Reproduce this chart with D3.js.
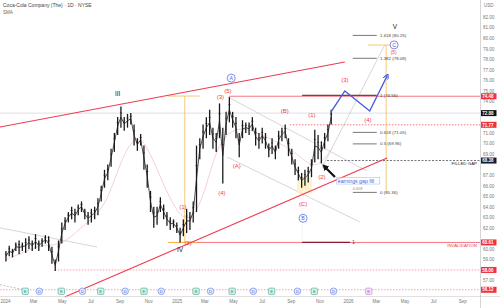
<!DOCTYPE html>
<html><head><meta charset="utf-8">
<script src="https://cdn.jsdelivr.net/npm/d3@7"></script>
<style>body{margin:0;background:#fff} svg{display:block} text{font-family:"Liberation Sans",Arial,sans-serif}</style>
</head><body><svg id="c" width="500" height="308"></svg>
<script>
// ---------- DATA ----------
const title = "Coca-Cola Company (The) · 1D · NYSE";
const indicatorName = "SMA";
const priceStart = "2024-01-01"; // first weekly bar
const weeklyHigh = [59.8,60.3,60.0,60.6,60.8,60.6,61.0,61.2,60.8,61.4,60.8,61.0,61.3,61.2,60.2,59.0,60.8,62.5,63.0,63.5,
  64.0,63.8,64.2,64.5,63.8,63.5,63.8,64.0,64.8,66.0,67.5,68.0,69.5,71.0,72.5,73.5,72.5,72.8,72.9,71.8,
  70.5,70.9,69.8,68.0,65.5,64.0,64.0,64.9,64.2,63.5,63.0,62.8,62.5,62.0,62.8,63.8,63.5,64.5,69.8,70.5,
  71.8,72.5,73.2,71.5,71.0,73.8,71.5,73.0,74.4,73.0,72.5,71.0,72.2,72.0,72.0,72.5,71.5,71.0,71.5,71.0,
  70.0,70.5,69.8,71.2,71.5,71.8,70.5,69.5,68.5,67.8,67.2,67.5,67.8,68.5,71.3,70.8,70.2,71.0,71.8,73.2];
const weeklyLow = [58.8,59.3,59.2,59.8,59.5,59.8,59.6,60.0,59.8,60.0,59.8,60.2,60.5,59.8,58.6,57.9,58.8,60.5,61.8,62.5,
  62.8,62.5,63.2,63.5,62.8,62.3,62.5,62.8,63.2,64.5,65.8,66.5,67.8,69.2,70.8,71.5,71.2,71.5,71.8,69.8,
  69.3,69.8,67.5,65.8,63.5,62.0,62.3,63.5,62.8,62.2,61.8,62.0,61.5,60.6,61.2,61.5,61.8,62.5,63.5,68.5,
  69.5,70.5,70.8,69.5,69.2,70.5,66.2,70.8,72.0,71.5,70.5,68.7,70.5,71.0,70.8,71.2,69.8,69.5,70.0,69.5,
  68.7,69.0,68.5,69.5,70.2,70.5,68.8,68.0,67.0,66.5,65.8,66.0,66.3,66.8,68.2,68.5,68.1,69.5,70.2,71.8];
const smaDates = ["2024-01-05","2024-02-15","2024-03-20","2024-05-01","2024-06-10","2024-07-15","2024-08-10","2024-09-05",
  "2024-10-01","2024-10-25","2024-11-25","2024-12-25","2025-01-25","2025-02-25","2025-03-25","2025-04-25","2025-06-01",
  "2025-07-15","2025-08-20","2025-09-25","2025-10-25","2025-11-28"];
const smaValues = [59.0,59.8,60.4,60.3,62.0,63.2,65.0,68.5,70.6,70.3,67.0,64.0,62.3,64.5,69.5,71.3,71.5,70.5,69.8,68.6,67.5,69.5];

const xTickDates = ["2024-01-01","2024-03-01","2024-05-01","2024-07-01","2024-09-01","2024-11-01","2025-01-01","2025-03-01",
  "2025-05-01","2025-07-01","2025-09-01","2025-11-01","2026-01-01","2026-03-01","2026-05-01","2026-07-01","2026-09-01"];
const xTickLabels = ["2024","Mar","May","Jul","Sep","Nov","2025","Mar","May","Jul","Sep","Nov","2026","Mar","May","Jul","Sep"];
const yTickValues = [57,58,59,60,61,62,63,64,65,66,67,68,69,70,71,72,73,74,75,76,77,78,79,80,81,82];
const axisUnit = "USD";

const tagValues = [74.48,72.88,71.77,68.38,60.61,58.00,56.12];
const tagKinds  = ["level","last","level","gap","level","level","level"];

const earningsDates = ["2024-02-13","2024-04-30","2024-07-23","2024-10-23","2025-02-11","2025-04-29","2025-07-22","2025-10-21"];
const dividendDates = ["2024-03-14","2024-06-14","2024-09-13","2024-11-29","2025-03-14","2025-06-13","2025-09-15","2025-12-01"];
const upcomingDates = ["2026-02-14"];

const fibLevels = ["1.618","1.382","1","0.618","0.5","0"];
const fibPrices = [80.25,78.08,74.56,71.05,69.96,65.36];

const waveText   = ["(3)","(5)","(4)","(A)","(B)","(1)","(2)","(C)","(1)","(2)","(3)","(4)","(5)"];
const waveDates  = ["2025-04-04","2025-04-20","2025-04-07","2025-05-09","2025-08-19","2025-01-14","2025-01-25","2025-09-27",
  "2025-10-16","2025-11-06","2025-12-25","2026-02-12","2026-04-08"];
const wavePrices = [74.4,74.98,65.3,67.86,73.08,63.97,60.56,64.26,72.7,66.8,76.02,72.23,78.62];

const degreeText   = ["III","IV","V"];
const degreeDates  = ["2024-08-28","2025-01-08","2026-04-11"];
const degreePrices = [74.7,59.9,81.05];

const circleText   = ["A","B","C"];
const circleDates  = ["2025-04-27","2025-09-27","2026-04-09"];
const circlePrices = [76.2,62.9,79.35];

const projDates  = ["2025-11-25","2025-12-25","2026-02-16","2026-03-25"];
const projPrices = [72.95,74.98,73.08,76.4];

// ---------- SETUP ----------
const W = 500, H = 308, PW = 480, PH = 296;
const P = d3.timeParse("%Y-%m-%d");
const svg = d3.select("#c");
const x = d3.scaleTime().domain([new Date(2023,11,21,8), new Date(2026,9,9)]).range([0, PW]);
const y = d3.scaleLinear().domain([55.53, 83.61]).range([PH, 0]);
const X = s => x(P(s));
const red = "#ef3b4f", blue = "#4a5bdc", orange = "#f5b041", grayL = "#c4c4c4";

const g = svg.append("g");
function seg(d1, p1, d2, p2, stroke, w, dash){
  const l = g.append("line").attr("x1", typeof d1==="string"?X(d1):d1).attr("y1", y(p1))
    .attr("x2", typeof d2==="string"?X(d2):d2).attr("y2", y(p2))
    .attr("stroke", stroke).attr("stroke-width", w);
  if (dash) l.attr("stroke-dasharray", dash);
  return l;
}

// horizontal levels
seg(0, 72.88, PW, 72.88, "#c8c8c8", 0.6);
seg("2025-04-22", 74.48, PW, 74.48, red, 0.7);
seg("2025-08-30", 71.77, PW, 71.77, red, 0.7, "1.5,1.5");
seg("2025-11-17", 68.38, PW, 68.38, "#333", 0.7, "2,1.5");
seg("2025-01-13", 60.61, PW, 60.61, red, 0.7);
seg("2024-04-16", 58.00, PW, 58.00, "#f07a86", 0.7, "1.5,1.5");
seg(0, 56.12, PW, 56.12, "#f07a86", 0.7, "1.5,1.5");
seg(0, 56.6, 25, 56.1, "#999", 0.6, "2,1.5");
seg("2025-09-25", 60.61, "2026-01-05", 60.61, "#8b1a2b", 1.3);
g.append("text").attr("x", X("2026-01-10")).attr("y", y(60.61)+1.5).attr("font-size",4.5).attr("fill","#333").text("1");

// gray trend lines
seg("2023-12-21", 62.0, "2024-07-15", 60.18, grayL, 0.7);
seg("2025-04-24", 74.31, "2026-02-10", 67.39, grayL, 0.7);
seg("2025-04-18", 68.72, "2026-01-26", 62.55, grayL, 0.7);
seg("2025-11-06", 67.67, "2026-03-20", 79.34, grayL, 0.7);
seg("2025-09-27", 65.4, "2025-09-25", 60.7, "#ddd", 0.6, "1,1");

// SMA
g.append("path").datum(smaDates.map((d,i)=>[X(d), y(smaValues[i])]))
  .attr("d", d3.line().curve(d3.curveBasis)).attr("fill","none").attr("stroke","#f2c4c4").attr("stroke-width",0.8);

// yellow boxes & measure tools
g.append("rect").attr("x", X("2025-09-14")).attr("y", y(66.82)).attr("width", X("2025-10-16")-X("2025-09-14"))
  .attr("height", y(65.3)-y(66.82)).attr("fill","#fdf1c6").attr("opacity",0.9);
seg("2025-01-18", 60.61, "2025-01-18", 74.5, orange, 0.7);
seg("2024-12-13", 74.5, "2025-02-19", 74.5, orange, 0.7);
seg("2024-12-13", 60.61, "2025-02-13", 60.61, orange, 1);
seg("2026-03-23", 65.3, "2026-03-23", 79.34, orange, 0.7);
seg("2026-02-12", 79.34, "2026-04-02", 79.34, orange, 0.7);

// red channel
seg("2023-12-21", 71.56, "2025-12-25", 77.73, red, 1.2);
seg("2024-05-07", 55.43, "2026-03-25", 68.62, red, 1.2);

// price bars
const t0 = P(priceStart);
const bars = weeklyHigh.map((h,i)=>({d: d3.timeDay.offset(d3.timeWeek.offset(t0, i), 2), h, l: weeklyLow[i]}));
g.append("path").datum(bars).attr("d", d3.line().x(b=>x(b.d)).y(b=>y((b.h+b.l)/2)))
  .attr("fill","none").attr("stroke","#222").attr("stroke-width",0.8);
g.selectAll(".bar").data(bars).join("line").attr("x1", b=>x(b.d)).attr("x2", b=>x(b.d))
  .attr("y1", b=>y(b.h)).attr("y2", b=>y(b.l)).attr("stroke","#1a1a1a").attr("stroke-width",1.3);
g.selectAll(".bar2").data(bars).join("line").attr("x1", b=>x(b.d)-1).attr("x2", b=>x(b.d)+1)
  .attr("y1", b=>y(b.l + (b.h-b.l)*0.7)).attr("y2", b=>y(b.l + (b.h-b.l)*0.7)).attr("stroke","#1a1a1a").attr("stroke-width",0.7);

// fib levels
fibLevels.forEach((lv,i)=>{
  const isOne = lv === "1";
  seg(isOne ? "2025-09-25" : "2026-01-11", fibPrices[i], "2026-03-03", fibPrices[i], isOne ? "#6b4a3a" : "#555", isOne ? 1.1 : 0.8);
  g.append("text").attr("x", X("2026-03-10")).attr("y", y(fibPrices[i])+1.5).attr("font-size",4.4).attr("fill","#444")
    .text(`${lv} (${fibPrices[i].toFixed(2)})`);
});
g.append("text").attr("x", X("2026-01-11")).attr("y", y(65.72)+1.6).attr("font-size",3.8).attr("fill","#888").text("0.618");

// earnings gap fill box
const eg = g.append("g");
const egx = X("2025-12-10"), egy = y(66.35);
eg.append("rect").attr("x", egx-1).attr("y", egy-4.2).attr("width", 43).attr("height", 6.3)
  .attr("fill","#fff").attr("fill-opacity",0.6).attr("stroke","#9fb0e6").attr("stroke-width",0.5);
eg.append("text").attr("x", egx).attr("y", egy+1).attr("font-size",5.2).attr("fill",blue).text("earnings gap fill");

// black arrow
svg.append("defs").append("marker").attr("id","ah").attr("viewBox","0 0 10 10").attr("refX",5).attr("refY",5)
  .attr("markerWidth",3).attr("markerHeight",3).attr("orient","auto-start-reverse")
  .append("path").attr("d","M0,0L10,5L0,10z").attr("fill","#111");
seg("2025-12-04", 66.82, "2025-11-12", 67.8, "#111", 2.2).attr("marker-end","url(#ah)");

// blue projection
svg.select("defs").append("marker").attr("id","bh").attr("viewBox","0 0 10 10").attr("refX",6).attr("refY",5)
  .attr("markerWidth",4).attr("markerHeight",4).attr("orient","auto")
  .append("path").attr("d","M0,0L10,5L0,10").attr("fill","none").attr("stroke",blue).attr("stroke-width",2);
g.append("path").datum(projDates.map((d,i)=>[X(d), y(projPrices[i])])).attr("d", d3.line())
  .attr("fill","none").attr("stroke",blue).attr("stroke-width",1.4).attr("marker-end","url(#bh)");

// wave labels
waveText.forEach((t,i)=> {
  const last = i === waveText.length - 1;
  g.append("text").attr("x", X(waveDates[i])).attr("y", y(wavePrices[i]) + (last ? 1.7 : 2))
    .attr("text-anchor","middle").attr("font-size", last ? 4.8 : 6).attr("fill",red).text(t);
});
degreeText.forEach((t,i)=> g.append("text").attr("x", X(degreeDates[i])).attr("y", y(degreePrices[i])+2.2)
  .attr("text-anchor","middle").attr("font-size",6.5).attr("fill","#222").text(t));
circleText.forEach((t,i)=>{
  const cx = X(circleDates[i]), cy = y(circlePrices[i]);
  g.append("circle").attr("cx",cx).attr("cy",cy).attr("r",4).attr("fill","#fff").attr("fill-opacity",0.7).attr("stroke",blue).attr("stroke-width",0.7);
  g.append("text").attr("x",cx).attr("y",cy+1.9).attr("text-anchor","middle").attr("font-size",5.2).attr("fill",blue).text(t);
});

// side texts
g.append("text").attr("x", PW-3).attr("y", y(68.38)+4).attr("text-anchor","end").attr("font-size",4.4).attr("fill","#222").text("FILLED GAP");
g.append("text").attr("x", PW-3).attr("y", y(60.61)+5).attr("text-anchor","end").attr("font-size",4.4).attr("fill",red).text("INVALIDATION");

// events row
const ev = g.append("g");
const evY = y(56.12) + 1.5;
earningsDates.forEach(d=>{
  const cx = X(d);
  ev.append("rect").attr("x",cx-3.2).attr("y",evY-3.2).attr("width",6.4).attr("height",6.4).attr("rx",1.2)
    .attr("fill","#d7f0ea").attr("stroke","#3bab94").attr("stroke-width",0.6);
  ev.append("text").attr("x",cx).attr("y",evY+1.5).attr("text-anchor","middle").attr("font-size",4.2).attr("fill","#2a8f7b").text("E");
});
dividendDates.forEach(d=>{
  const cx = X(d);
  ev.append("circle").attr("cx",cx).attr("cy",evY).attr("r",3.3).attr("fill","#e6ebfb").attr("stroke","#5a78e8").attr("stroke-width",0.6);
  ev.append("text").attr("x",cx).attr("y",evY+1.5).attr("text-anchor","middle").attr("font-size",4.2).attr("fill","#4b66d6").text("D");
});
upcomingDates.forEach(d=>{
  const cx = X(d);
  ev.append("rect").attr("x",cx-3.2).attr("y",evY-3.2).attr("width",6.4).attr("height",6.4).attr("rx",1.2)
    .attr("fill","#f3e4f7").attr("stroke","#c27ad6").attr("stroke-width",0.6);
  ev.append("text").attr("x",cx).attr("y",evY+1.5).attr("text-anchor","middle").attr("font-size",4.2).attr("fill","#a855c4").text("E");
});

// axes
svg.append("line").attr("x1",0).attr("x2",W).attr("y1",PH+0.5).attr("y2",PH+0.5).attr("stroke","#ccc").attr("stroke-width",0.6);
svg.append("line").attr("x1",PW+0.5).attr("x2",PW+0.5).attr("y1",0).attr("y2",H).attr("stroke","#bbb").attr("stroke-width",0.6);
const visibleTicks = yTickValues.filter(v => tagValues.every(t => Math.abs(t - v) >= 0.45 || t === v));
const ya = svg.append("g").attr("transform",`translate(${PW},0)`)
  .call(d3.axisRight(y).tickValues(visibleTicks.filter(v => !tagValues.includes(v))).tickSize(0).tickPadding(3).tickFormat(d3.format(".2f")));
ya.select(".domain").remove();
ya.selectAll("text").attr("font-size",4.5).attr("fill","#777").attr("font-family","Liberation Sans, Arial");
svg.append("text").attr("x",PW+4).attr("y",7).attr("font-size",4.5).attr("fill","#777").text(axisUnit);
const xa = svg.append("g").attr("transform",`translate(0,${PH})`)
  .call(d3.axisBottom(x).tickValues(xTickDates.map(P)).tickSize(0).tickPadding(4).tickFormat((d,i)=>xTickLabels[i]));
xa.select(".domain").remove();
xa.selectAll("text").attr("font-size",4.5).attr("fill","#777").attr("font-family","Liberation Sans, Arial");

// price tags
const tagColor = {level: "#f2313f", last: "#111", gap: "#1b1b2b"};
tagValues.forEach((v,i)=>{
  const ty = y(v);
  svg.append("rect").attr("x",PW+1).attr("y",ty-3).attr("width",15.5).attr("height",6).attr("fill",tagColor[tagKinds[i]]);
  svg.append("text").attr("x",PW+2.2).attr("y",ty+1.7).attr("font-size",4.5).attr("font-weight","bold").attr("fill","#fff").text(v.toFixed(2));
});

// title
svg.append("text").attr("x",3).attr("y",7).attr("font-size",5).attr("fill","#444").text(title);
svg.append("text").attr("x",3).attr("y",14).attr("font-size",4.5).attr("fill","#666").text(indicatorName);
</script></body></html>
